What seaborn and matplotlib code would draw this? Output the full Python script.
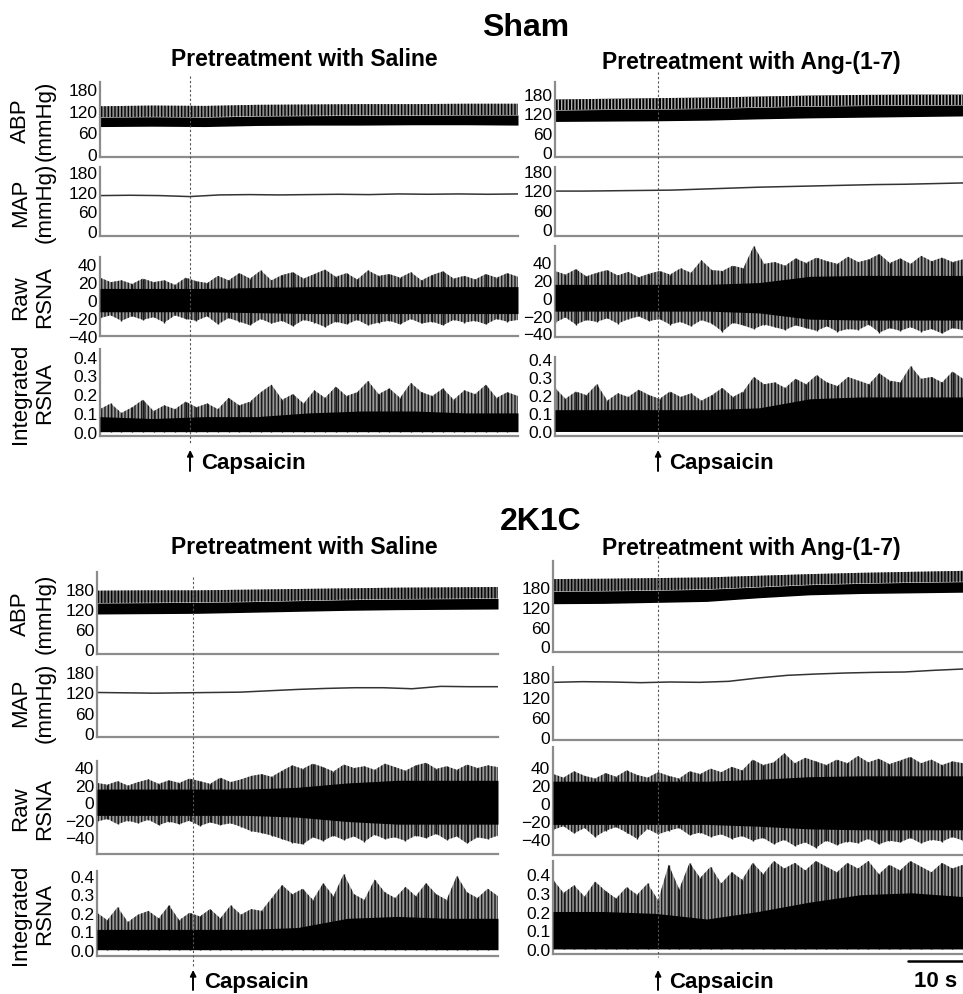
import numpy as np
import pandas as pd
import seaborn as sns
import matplotlib.pyplot as plt
import matplotlib.transforms as mtransforms
from matplotlib.lines import Line2D

sns.set_style("white")
plt.rcParams["font.family"] = ["Liberation Sans", "DejaVu Sans"]
plt.rcParams["hatch.linewidth"] = 1.0
plt.rcParams["text.color"] = "black"

# Recording length (s) and capsaicin injection time (s) for each panel
durations = {"sham_sal": 76, "sham_ang": 74, "k_sal": 73, "k_ang": 74.5}
capsaicin_t = {"sham_sal": 16.4, "sham_ang": 18.7, "k_sal": 17.5, "k_ang": 19.1}

## ABP envelopes (mmHg): systolic top, top of dense trace, diastolic bottom
sham_sal_sys = [132, 134, 133, 136, 137, 138, 138, 139, 139]
sham_sal_core = [102, 103, 102, 105, 106, 107, 107, 108, 108]
sham_sal_dia = [76, 77, 76, 79, 80, 80, 81, 81, 80]

sham_ang_sys = [163, 165, 167, 169, 172, 175, 177, 178, 178]
sham_ang_core = [130, 132, 133, 135, 139, 142, 144, 145, 146]
sham_ang_dia = [95, 96, 97, 99, 103, 106, 108, 110, 112]

k_sal_sys = [175, 176, 176, 178, 180, 182, 184, 185, 186]
k_sal_core = [138, 139, 140, 142, 145, 148, 150, 151, 152]
k_sal_dia = [105, 106, 107, 110, 113, 116, 118, 119, 120]

k_ang_sys = [205, 206, 208, 210, 215, 220, 224, 227, 230]
k_ang_core = [168, 169, 171, 174, 181, 188, 192, 195, 197]
k_ang_dia = [130, 131, 134, 137, 148, 157, 161, 163, 165]

## MAP (mmHg)
sham_sal_map = [108, 109, 108, 105, 110, 111, 110, 111, 112, 111, 113, 112, 113, 112, 113]
sham_ang_map = [118, 118, 119, 120, 121, 124, 127, 130, 132, 134, 136, 138, 139, 141, 143]
k_sal_map = [120, 119, 118, 119, 120, 121, 125, 129, 132, 134, 134, 131, 138, 137, 137]
k_ang_map = [165, 167, 166, 164, 166, 165, 168, 178, 186, 190, 193, 195, 196, 201, 205]

## Raw RSNA: spike tops / bottoms and dense core amplitude
sham_sal_raw_top = [25, 20, 22, 18, 24, 20, 22, 17, 25, 21, 19, 27, 22, 30, 24, 33, 22, 28, 31, 24,
                    29, 34, 26, 30, 23, 33, 27, 29, 25, 31, 22, 28, 32, 24, 27, 23, 29, 25, 30, 26]
sham_sal_raw_bot = [-20, -17, -23, -18, -22, -19, -25, -17, -21, -23, -18, -27, -20, -24, -28, -21, -26, -23, -29, -22,
                    -25, -30, -24, -27, -22, -28, -25, -23, -27, -21, -26, -24, -28, -22, -25, -23, -27, -21, -24, -22]
sham_sal_raw_core = [13, 13, 13, 14, 15, 15, 15, 15, 15]

sham_ang_raw_top = [30, 26, 32, 24, 28, 31, 25, 29, 23, 27, 30, 26, 33, 28, 42, 31, 30, 36, 33, 58,
                    38, 40, 36, 44, 39, 45, 41, 38, 46, 40, 43, 49, 39, 44, 38, 47, 41, 45, 40, 43]
sham_ang_raw_bot = [-28, -22, -30, -25, -27, -23, -29, -24, -21, -26, -24, -30, -27, -32, -25, -29, -38, -28, -31, -35,
                    -30, -33, -36, -31, -34, -37, -32, -38, -35, -36, -30, -39, -34, -37, -33, -38, -35, -40, -34, -36]
sham_ang_raw_core = [15, 15, 15, 15, 17, 24, 25, 25, 25]

k_sal_raw_top = [22, 20, 24, 19, 23, 26, 21, 25, 22, 27, 24, 21, 28, 23, 26, 30, 32, 29, 36, 42,
                 38, 44, 40, 35, 43, 39, 41, 37, 44, 40, 36, 42, 45, 38, 41, 37, 43, 39, 42, 40]
k_sal_raw_bot = [-22, -19, -25, -21, -24, -20, -26, -22, -25, -21, -27, -23, -26, -24, -28, -33, -35, -38, -42, -46,
                 -48, -40, -44, -38, -43, -39, -45, -37, -42, -40, -44, -38, -41, -36, -43, -39, -47, -40, -42, -38]
k_sal_raw_core = [15, 15, 15, 15, 17, 22, 25, 25, 25]

k_ang_raw_top = [32, 28, 35, 30, 27, 33, 29, 36, 31, 28, 34, 30, 27, 35, 32, 38, 34, 40, 36, 48,
                 42, 45, 55, 44, 50, 46, 42, 48, 44, 52, 45, 49, 43, 47, 51, 44, 48, 42, 46, 44]
k_ang_raw_bot = [-30, -26, -34, -28, -38, -31, -27, -33, -40, -29, -35, -31, -28, -36, -33, -38, -35, -40, -37, -42,
                 -39, -46, -41, -48, -44, -50, -42, -47, -43, -45, -40, -46, -42, -44, -39, -45, -41, -43, -38, -42]
k_ang_raw_core = [24, 24, 24, 24, 26, 29, 30, 30, 30]

## Integrated RSNA: spike tops and dense core
sham_sal_int_top = [0.12, 0.15, 0.10, 0.13, 0.17, 0.11, 0.14, 0.12, 0.16, 0.13, 0.15, 0.12, 0.18, 0.14, 0.16, 0.21, 0.25, 0.17, 0.20, 0.15,
                    0.22, 0.18, 0.24, 0.19, 0.21, 0.27, 0.20, 0.23, 0.18, 0.26, 0.21, 0.19, 0.23, 0.17, 0.22, 0.20, 0.25, 0.18, 0.21, 0.19]
sham_sal_int_core = [0.08, 0.07, 0.08, 0.08, 0.10, 0.11, 0.11, 0.10, 0.10]

sham_ang_int_top = [0.24, 0.18, 0.22, 0.20, 0.26, 0.17, 0.21, 0.19, 0.23, 0.20, 0.18, 0.22, 0.19, 0.21, 0.17, 0.20, 0.24, 0.19, 0.22, 0.30,
                    0.26, 0.27, 0.24, 0.29, 0.26, 0.31, 0.27, 0.25, 0.30, 0.28, 0.26, 0.32, 0.28, 0.27, 0.36, 0.29, 0.30, 0.27, 0.33, 0.29]
sham_ang_int_core = [0.12, 0.12, 0.12, 0.12, 0.13, 0.18, 0.19, 0.19, 0.19]

k_sal_int_top = [0.20, 0.16, 0.23, 0.15, 0.19, 0.21, 0.17, 0.24, 0.16, 0.20, 0.18, 0.22, 0.17, 0.24, 0.19, 0.22, 0.21, 0.28, 0.35, 0.30,
                 0.33, 0.27, 0.36, 0.29, 0.41, 0.30, 0.27, 0.38, 0.31, 0.28, 0.34, 0.29, 0.36, 0.30, 0.27, 0.40, 0.31, 0.28, 0.33, 0.29]
k_sal_int_core = [0.11, 0.11, 0.11, 0.11, 0.12, 0.17, 0.18, 0.17, 0.17]

k_ang_int_top = [0.37, 0.30, 0.34, 0.28, 0.36, 0.31, 0.27, 0.33, 0.29, 0.35, 0.26, 0.45, 0.32, 0.46, 0.38, 0.44, 0.35, 0.41, 0.37, 0.46,
                 0.40, 0.47, 0.43, 0.46, 0.42, 0.47, 0.44, 0.41, 0.46, 0.43, 0.47, 0.40, 0.45, 0.42, 0.47, 0.44, 0.41, 0.46, 0.43, 0.45]
k_ang_int_core = [0.20, 0.20, 0.19, 0.16, 0.20, 0.25, 0.29, 0.30, 0.28]

abp_ticks = [0, 60, 120, 180]
raw_ticks = [-40, -20, 0, 20, 40]
int_ticks = [0.0, 0.1, 0.2, 0.3, 0.4]
row_labels = ["ABP\n(mmHg)", "MAP\n(mmHg)", "Raw\nRSNA", "Integrated\nRSNA"]

data = {
    "sham_sal": dict(sys=sham_sal_sys, core=sham_sal_core, dia=sham_sal_dia, map=sham_sal_map,
                     raw_top=sham_sal_raw_top, raw_bot=sham_sal_raw_bot, raw_core=sham_sal_raw_core,
                     int_top=sham_sal_int_top, int_core=sham_sal_int_core),
    "sham_ang": dict(sys=sham_ang_sys, core=sham_ang_core, dia=sham_ang_dia, map=sham_ang_map,
                     raw_top=sham_ang_raw_top, raw_bot=sham_ang_raw_bot, raw_core=sham_ang_raw_core,
                     int_top=sham_ang_int_top, int_core=sham_ang_int_core),
    "k_sal": dict(sys=k_sal_sys, core=k_sal_core, dia=k_sal_dia, map=k_sal_map,
                  raw_top=k_sal_raw_top, raw_bot=k_sal_raw_bot, raw_core=k_sal_raw_core,
                  int_top=k_sal_int_top, int_core=k_sal_int_core),
    "k_ang": dict(sys=k_ang_sys, core=k_ang_core, dia=k_ang_dia, map=k_ang_map,
                  raw_top=k_ang_raw_top, raw_bot=k_ang_raw_bot, raw_core=k_ang_raw_core,
                  int_top=k_ang_int_top, int_core=k_ang_int_core),
}

# Layout in pixels: x range, then (top, bottom) per row, then ylims per row
W, H = 963, 995
layout = {
    "sham_sal": dict(x=(100, 518), rows=[(83, 158), (168, 237), (258, 337), (350, 437)],
                     ylims=[(-8, 199), (-15, 195), (-40, 48), (-0.023, 0.44)],
                     band=("#8a8a8a", "black"), dash=(77, 444), arrow=(472, 451), left=True),
    "sham_ang": dict(x=(555, 963), rows=[(83, 158), (168, 237), (247, 338), (358, 437)],
                     ylims=[(-15, 217), (-20, 192), (-44, 58), (-0.025, 0.41)],
                     band=("black", "#b5b5b5"), dash=(73, 443), arrow=(472, 451), left=False),
    "k_sal": dict(x=(97, 498), rows=[(573, 655), (668, 738), (762, 855), (872, 957)],
                  ylims=[(-15, 231), (-11, 195), (-59, 47), (-0.034, 0.426)],
                  band=("#777777", "black"), dash=(578, 968), arrow=(991, 971), left=True),
    "k_ang": dict(x=(553, 963), rows=[(562, 653), (668, 741), (748, 856), (862, 955)],
                  ylims=[(-17, 260), (-8, 211), (-58, 62), (-0.027, 0.47)],
                  band=("#777777", "black"), dash=(557, 958), arrow=(991, 971), left=False),
}

fig = plt.figure(figsize=(W / 100, H / 100), dpi=100)


def px_axes(x0, x1, y0, y1):
    return fig.add_axes([x0 / W, 1 - y1 / H, (x1 - x0) / W, (y1 - y0) / H])


def style_axes(ax, ticks, fmt=None):
    sns.despine(ax=ax)
    for s in ["left", "bottom"]:
        ax.spines[s].set_color("#8c8c8c")
        ax.spines[s].set_linewidth(1.6)
    ax.set_yticks(ticks)
    if fmt:
        ax.set_yticklabels([fmt.format(v) for v in ticks])
    ax.set_xticks([])
    ax.tick_params(axis="y", length=0, pad=2, labelsize=12.5, labelcolor="black")
    ax.set_xlabel("")
    ax.set_ylabel("")


def spikes(ax, t, lo, hi):
    # jagged spike band with a vertical stripe texture, thin spike tips on top
    ax.fill_between(t, lo, hi, facecolor="#9a9a9a", edgecolor="#1a1a1a",
                    hatch="|||||", lw=0, zorder=1)
    ax.vlines(t, lo, hi, color="#1a1a1a", lw=1.0, zorder=1.5)


for key, lay in layout.items():
    d = data[key]
    dur = durations[key]
    x0, x1 = lay["x"]
    axes = [px_axes(x0, x1, r0, r1) for (r0, r1) in lay["rows"]]
    t9 = np.linspace(0, dur, 9)
    t15 = np.linspace(0, dur, 15)
    t40 = np.linspace(0, dur, 40)

    # ABP
    ax = axes[0]
    ax.fill_between(t9, d["dia"], d["core"], color="black", lw=0)
    ax.fill_between(t9, d["core"], d["sys"], facecolor=lay["band"][0],
                    edgecolor=lay["band"][1], hatch="|||||", lw=0)
    style_axes(ax, abp_ticks)

    # MAP
    ax = axes[1]
    sns.lineplot(x=t15, y=d["map"], ax=ax, color="#333333", lw=1.1)
    style_axes(ax, abp_ticks)

    # Raw RSNA
    ax = axes[2]
    spikes(ax, t40, d["raw_bot"], d["raw_top"])
    core = np.array(d["raw_core"])
    ax.fill_between(t9, -core, core, color="black", lw=0, zorder=3)
    style_axes(ax, raw_ticks)

    # Integrated RSNA
    ax = axes[3]
    spikes(ax, t40, 0, d["int_top"])
    ax.fill_between(t9, 0, d["int_core"], color="black", lw=0, zorder=3)
    style_axes(ax, int_ticks, "{:.1f}")

    for ax, yl in zip(axes, lay["ylims"]):
        ax.set_xlim(0, dur)
        ax.set_ylim(*yl)

    if lay["left"]:
        for (r0, r1), lab in zip(lay["rows"], row_labels):
            fig.text(33 / W, 1 - (r0 + r1) / 2 / H, lab, rotation=90, ha="center",
                     va="center", ma="center", fontsize=16, color="black")

    # capsaicin marker
    tc = capsaicin_t[key]
    trans = mtransforms.blended_transform_factory(axes[0].transData, fig.transFigure)
    fig.add_artist(Line2D([tc, tc], [1 - lay["dash"][0] / H, 1 - lay["dash"][1] / H],
                          transform=trans, color="#555555", lw=0.8, ls=(0, (2, 2))))
    ya, yb = lay["arrow"]
    fig.add_artist(Line2D([tc, tc], [1 - ya / H, 1 - (yb + 4) / H], transform=trans,
                          color="black", lw=1.4))
    axes[0].annotate("", xy=(tc, 1 - yb / H), xytext=(tc, 1 - (yb + 8) / H),
                     xycoords=trans, textcoords=trans,
                     arrowprops=dict(arrowstyle="-|>", color="black", lw=1.2,
                                     mutation_scale=9, shrinkA=0, shrinkB=0))
    fig.text(tc + 2.0, 1 - (ya + yb) / 2 / H - 0.002, "Capsaicin", transform=trans,
             fontsize=16, fontweight="bold", ha="left", va="center")

    if key == "k_ang":
        fig.add_artist(Line2D([64.5, 74.5], [1 - 962 / H, 1 - 962 / H], transform=trans,
                              color="black", lw=1.8))
        fig.text(69.5, 1 - 982 / H, "10 s", transform=trans, fontsize=16,
                 fontweight="bold", ha="center", va="center")

# titles
fig.text(526 / W, 1 - 28 / H, "Sham", fontsize=23, fontweight="bold", ha="center", va="center")
fig.text(541 / W, 1 - 522 / H, "2K1C", fontsize=23, fontweight="bold", ha="center", va="center")
for xc, yc, txt in [(304, 60, "Pretreatment with Saline"), (751, 62, "Pretreatment with Ang-(1-7)"),
                    (304, 548, "Pretreatment with Saline"), (751, 549, "Pretreatment with Ang-(1-7)")]:
    fig.text(xc / W, 1 - yc / H, txt, fontsize=16.5, fontweight="bold", ha="center", va="center")

fig.savefig("out.png", dpi=100)
